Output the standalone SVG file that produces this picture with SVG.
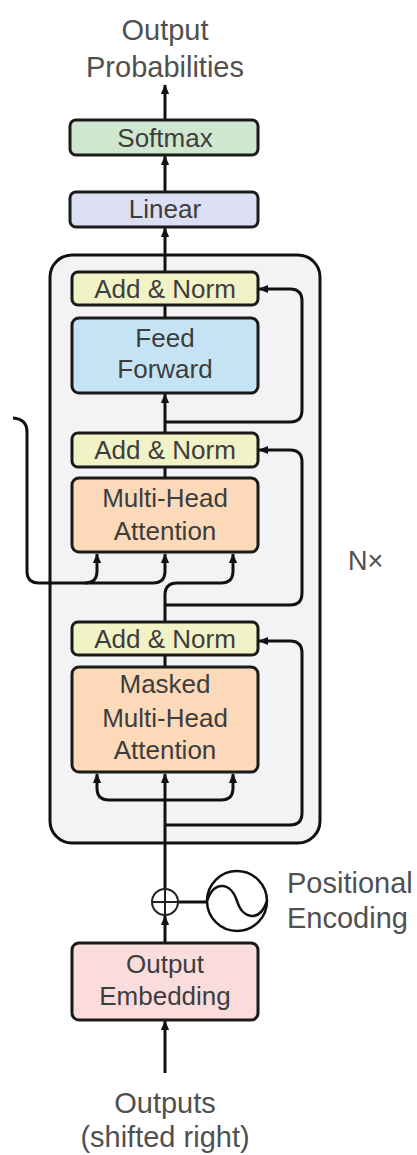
<svg xmlns="http://www.w3.org/2000/svg" width="417" height="1155" viewBox="0 0 417 1155">
<style>
.box{stroke:#1a1a1a;stroke-width:3}
.t{font-family:"Liberation Sans",Arial,sans-serif;font-size:26px;text-anchor:middle;fill:#3d3d3d}
.big{font-family:"Liberation Sans",Arial,sans-serif;font-size:29px;fill:#505050}
.c{text-anchor:middle}
.ln{fill:none;stroke:#111;stroke-width:3;stroke-linejoin:round}
.ar{marker-end:url(#ah)}
</style>
<defs>
<marker id="ah" markerUnits="userSpaceOnUse" markerWidth="10" markerHeight="12" viewBox="0 0 12 10" refX="11" refY="5" orient="auto">
<path d="M0,0 L12,5 L0,10 z" fill="#111"/>
</marker>
</defs>
<rect width="417" height="1155" fill="#ffffff"/>
<g id="decoder-stack">
<rect x="50" y="255" width="270" height="588" rx="22" fill="#f3f3f5" stroke="#111" stroke-width="3"/>
</g>
<g id="connectors">
<path class="ln ar" d="M165,120 V85"/>
<path class="ln ar" d="M165,192 V156"/>
<path class="ln ar" d="M165,272 V228"/>
<path class="ln" d="M165,318 V305"/>
<path class="ln ar" d="M165,433 V394"/>
<path class="ln ar" d="M165,422 H290 Q302,422 302,410 V301 Q302,289 290,289 H259"/>
<path class="ln" d="M165,478 V467"/>
<path class="ln ar" d="M165,605 H290 Q302,605 302,593 V462 Q302,450 290,450 H259"/>
<path class="ln ar" d="M13,418 Q27,419 27,432 V571 Q27,583 39,583 H85 Q97,583 97,571 V554"/>
<path class="ln ar" d="M85,583 H153 Q165,583 165,571 V554"/>
<path class="ln ar" d="M165,622 V595 Q165,583 177,583 H221 Q233,583 233,571 V554"/>
<path class="ln" d="M165,667 V655"/>
<path class="ln ar" d="M165,889 V774"/>
<path class="ln ar" d="M165,800 H109 Q97,800 97,788 V774"/>
<path class="ln ar" d="M165,800 H221 Q233,800 233,788 V774"/>
<path class="ln ar" d="M165,825 H290 Q302,825 302,813 V653 Q302,641 290,641 H259"/>
<path class="ln ar" d="M165,943 V916"/>
<path class="ln ar" d="M165,1073 V1021"/>
<path class="ln" d="M178,902 H207"/>
</g>
<g id="softmax">
<rect class="box" x="70" y="120" width="188" height="35" rx="6" fill="#d0e7cf"/>
<text class="t" x="165" y="147">Softmax</text>
</g>
<g id="linear">
<rect class="box" x="70" y="192" width="188" height="35" rx="6" fill="#dcdef3"/>
<text class="t" x="165" y="218">Linear</text>
</g>
<g id="add-norm-1">
<rect class="box" x="72" y="272" width="186" height="33" rx="6" fill="#f1f3c6"/>
<text class="t" x="165" y="298">Add &amp; Norm</text>
</g>
<g id="feed-forward">
<rect class="box" x="72" y="318" width="186" height="75" rx="7" fill="#c4e4f6"/>
<text class="t" x="165" y="347">Feed</text>
<text class="t" x="165" y="378">Forward</text>
</g>
<g id="add-norm-2">
<rect class="box" x="72" y="433" width="186" height="34" rx="6" fill="#f1f3c6"/>
<text class="t" x="165" y="459">Add &amp; Norm</text>
</g>
<g id="multi-head-attention">
<rect class="box" x="72" y="478" width="186" height="74" rx="7" fill="#fbd9b9"/>
<text class="t" x="165" y="507">Multi-Head</text>
<text class="t" x="165" y="540">Attention</text>
</g>
<g id="add-norm-3">
<rect class="box" x="72" y="622" width="186" height="33" rx="6" fill="#f1f3c6"/>
<text class="t" x="165" y="648">Add &amp; Norm</text>
</g>
<g id="masked-multi-head-attention">
<rect class="box" x="72" y="667" width="186" height="105" rx="7" fill="#fbd9b9"/>
<text class="t" x="165" y="693">Masked</text>
<text class="t" x="165" y="727">Multi-Head</text>
<text class="t" x="165" y="759">Attention</text>
</g>
<g id="output-embedding">
<rect class="box" x="72" y="943" width="186" height="77" rx="7" fill="#fbdcdc"/>
<text class="t" x="165" y="973">Output</text>
<text class="t" x="165" y="1005">Embedding</text>
</g>
<g id="add">
<circle cx="165" cy="902" r="13" fill="#fff" stroke="#222" stroke-width="2"/>
<path d="M152,902 H178 M165,889 V915" stroke="#222" stroke-width="2"/>
</g>
<g id="positional-encoding">
<circle cx="237" cy="901" r="30" fill="#fff" stroke="#111" stroke-width="2.5"/>
<path d="M207,901 C214,880 231,882 237,901 C243,920 260,922 267,901" fill="none" stroke="#111" stroke-width="2.5"/>
<text class="big" x="287" y="893">Positional</text>
<text class="big" x="287" y="928">Encoding</text>
</g>
<g id="labels">
<text class="big c" x="165" y="40">Output</text>
<text class="big c" x="165" y="77">Probabilities</text>
<text class="big c" x="165" y="1113">Outputs</text>
<text class="big c" x="165" y="1147">(shifted right)</text>
<text class="big" x="348" y="570" style="font-size:27px">N×</text>
</g>
</svg>
